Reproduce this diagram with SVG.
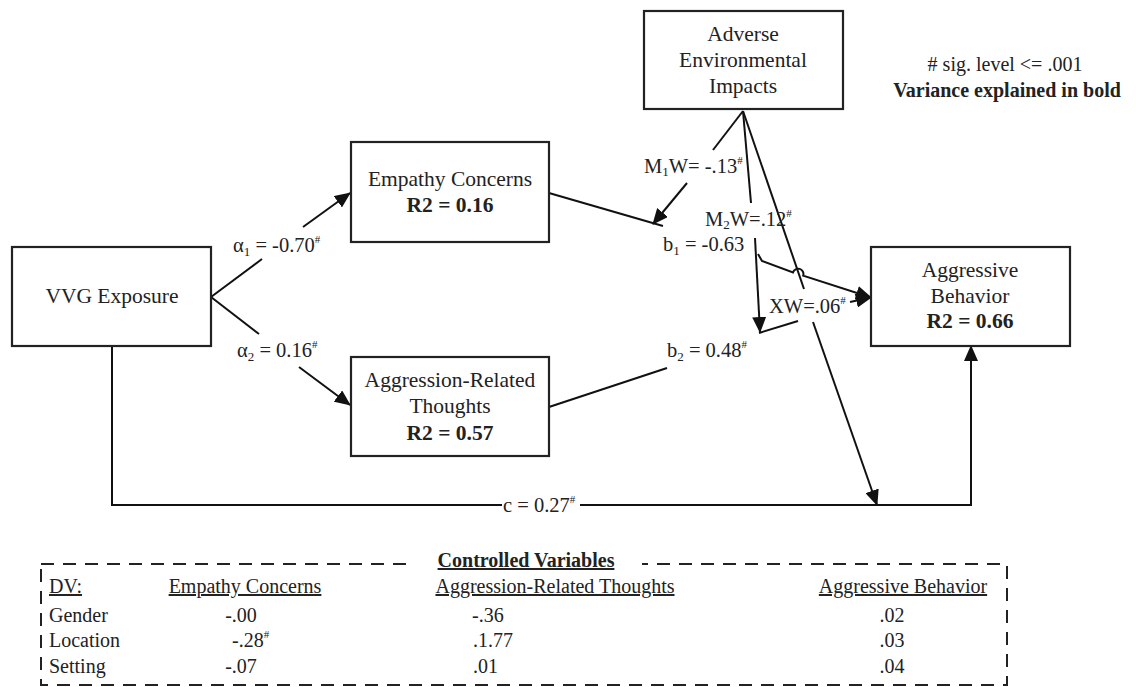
<svg xmlns="http://www.w3.org/2000/svg" width="1136" height="687" viewBox="0 0 1136 687">
<style>
text{font-family:"Liberation Serif","Times New Roman",serif;fill:#222}
.n{font-size:21.5px;text-anchor:middle}
.b{font-weight:bold}
.l{font-size:20.5px}
.t{font-size:20px}
.u{text-decoration:underline}
.box{fill:#fff;stroke:#222;stroke-width:2.2}
.c{fill:none;stroke:#111;stroke-width:2}
.sup{font-size:11px}
.sub{font-size:13px}
</style>
<defs>
<marker id="ah" markerUnits="userSpaceOnUse" markerWidth="16" markerHeight="14" refX="15" refY="7" orient="auto">
<path d="M0,0 L16,7 L0,14 z" fill="#111"/>
</marker>
</defs>
<rect width="1136" height="687" fill="#fff"/>

<g id="connectors">
<line class="c" x1="211" y1="297" x2="262" y2="259"/>
<line class="c" x1="303" y1="227" x2="350" y2="193" marker-end="url(#ah)"/>
<line class="c" x1="211" y1="297" x2="259" y2="334"/>
<line class="c" x1="299" y1="367" x2="350" y2="405" marker-end="url(#ah)"/>
<line class="c" x1="549" y1="193" x2="663" y2="226"/>
<path class="c" d="M758,254 L762,261 L793,272.4 A5.3,5.3 0 0 1 803.2,275.6 L871,297.5" marker-end="url(#ah)"/>
<line class="c" x1="549" y1="407" x2="667" y2="368"/>
<line class="c" x1="759" y1="333" x2="798" y2="321"/>
<line class="c" x1="850" y1="302" x2="871" y2="297.5" marker-end="url(#ah)"/>
<line class="c" x1="743" y1="111" x2="713" y2="150"/>
<line class="c" x1="687" y1="183" x2="653" y2="224" marker-end="url(#ah)"/>
<line class="c" x1="743" y1="111" x2="751" y2="203"/>
<line class="c" x1="755" y1="238" x2="760" y2="332" marker-end="url(#ah)"/>
<line class="c" x1="743" y1="111" x2="804" y2="289"/>
<line class="c" x1="813" y1="322" x2="877" y2="505" marker-end="url(#ah)"/>
<polyline class="c" points="112,346 112,505 502,505"/>
<polyline class="c" points="580,505 971,505 971,346" marker-end="url(#ah)"/>
</g>

<g id="labels">
<text class="l" x="233" y="252">α<tspan class="sub" dy="4">1</tspan><tspan dy="-4"> = -0.70</tspan><tspan class="sup" dy="-9">#</tspan></text>
<text class="l" x="237" y="357">α<tspan class="sub" dy="4">2</tspan><tspan dy="-4"> = 0.16</tspan><tspan class="sup" dy="-9">#</tspan></text>
<text class="l" x="644" y="173">M<tspan class="sub" dy="3">1</tspan><tspan dy="-3">W= -.13</tspan><tspan class="sup" dy="-9">#</tspan></text>
<text class="l" x="705" y="226">M<tspan class="sub" dy="3">2</tspan><tspan dy="-3">W=.12</tspan><tspan class="sup" dy="-9">#</tspan></text>
<text class="l" x="663" y="251">b<tspan class="sub" dy="4">1</tspan><tspan dy="-4"> = -0.63</tspan></text>
<text class="l" x="667" y="357">b<tspan class="sub" dy="4">2</tspan><tspan dy="-4"> = 0.48</tspan><tspan class="sup" dy="-9">#</tspan></text>
<text class="l" x="769" y="313">XW=.06<tspan class="sup" dy="-9">#</tspan></text>
<text class="l" x="503" y="512">c = 0.27<tspan class="sup" dy="-9">#</tspan></text>
</g>

<g id="node-vvg">
<rect class="box" x="12" y="247" width="199" height="99"/>
<text class="n" x="112" y="303">VVG Exposure</text>
</g>
<g id="node-empathy">
<rect class="box" x="351" y="142" width="198" height="100"/>
<text class="n" x="450" y="186">Empathy Concerns</text>
<text class="n b" x="450" y="212">R2 = 0.16</text>
</g>
<g id="node-aggression-thoughts">
<rect class="box" x="351" y="357" width="198" height="99"/>
<text class="n" x="450" y="387">Aggression-Related</text>
<text class="n" x="450" y="413">Thoughts</text>
<text class="n b" x="450" y="440">R2 = 0.57</text>
</g>
<g id="node-adverse">
<rect class="box" x="644" y="11" width="199" height="98"/>
<text class="n" x="743" y="41">Adverse</text>
<text class="n" x="743" y="67">Environmental</text>
<text class="n" x="743" y="93">Impacts</text>
</g>
<g id="node-aggressive">
<rect class="box" x="871" y="247" width="199" height="99"/>
<text class="n" x="970" y="277">Aggressive</text>
<text class="n" x="970" y="303">Behavior</text>
<text class="n b" x="970" y="328">R2 = 0.66</text>
</g>

<g id="legend">
<text class="t" x="1005" y="71" text-anchor="middle"># sig. level &lt;= .001</text>
<text class="t b" x="1007" y="97" text-anchor="middle">Variance explained in bold</text>
</g>

<g id="table">
<rect x="41" y="564" width="966" height="121" fill="none" stroke="#222" stroke-width="2" stroke-dasharray="13,9"/>
<rect x="410" y="552" width="232" height="20" fill="#fff"/>
<text class="t b u" x="526" y="567" text-anchor="middle">Controlled Variables</text>
<text class="t u" x="49" y="593">DV:</text>
<text class="t u" x="245" y="593" text-anchor="middle">Empathy Concerns</text>
<text class="t u" x="555" y="593" text-anchor="middle">Aggression-Related Thoughts</text>
<text class="t u" x="903" y="593" text-anchor="middle">Aggressive Behavior</text>
<text class="t" x="49" y="622">Gender</text>
<text class="t" x="49" y="647">Location</text>
<text class="t" x="49" y="673">Setting</text>
<text class="t" x="241" y="622" text-anchor="middle">-.00</text>
<text class="t" x="232" y="647">-.28<tspan class="sup" dy="-9">#</tspan></text>
<text class="t" x="241" y="673" text-anchor="middle">-.07</text>
<text class="t" x="472" y="622">-.36</text>
<text class="t" x="473" y="647">.1.77</text>
<text class="t" x="473" y="673">.01</text>
<text class="t" x="892" y="622" text-anchor="middle">.02</text>
<text class="t" x="892" y="647" text-anchor="middle">.03</text>
<text class="t" x="892" y="673" text-anchor="middle">.04</text>
</g>
</svg>
